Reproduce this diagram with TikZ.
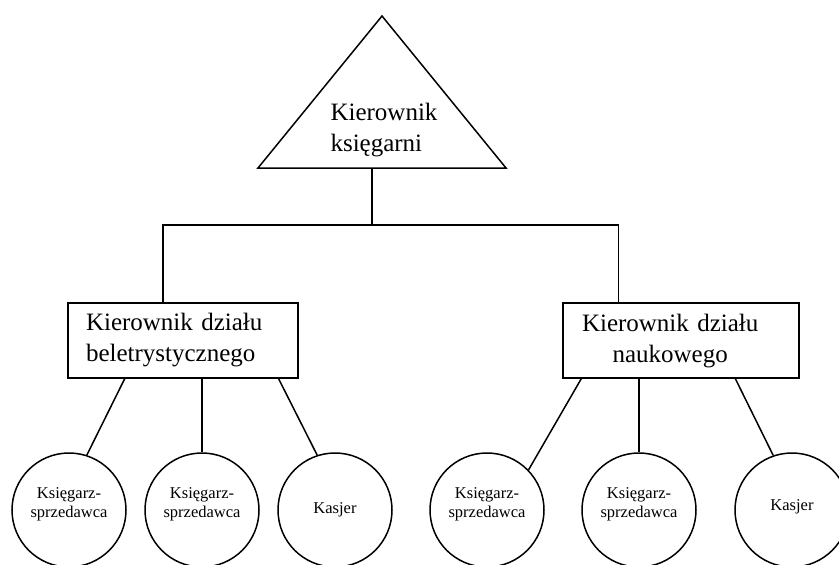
\documentclass[tikz,border=0pt]{standalone}
\usepackage{fontspec}
\setmainfont{Liberation Serif}
\usepackage{tikz}
\usetikzlibrary{calc, positioning}

% tekst w kole, lekko podniesiony
\newcommand{\staffname}[1]{\raisebox{6pt}[\height][\depth]{%
    \begin{tabular}{@{}c@{}}#1\end{tabular}}}

\begin{document}
\begin{tikzpicture}[
    x=1pt, y=-1pt,
    line width=1.5pt,
    bigfont/.style={font=\fontsize{25}{31}\selectfont},
    chief/.style={draw, bigfont, minimum height=75pt, inner ysep=0pt,
                  align=left},
    staff/.style={draw, circle, minimum size=114pt, inner sep=0pt,
                  align=center, font=\fontsize{16.5}{19}\selectfont}
]
\useasboundingbox (0,0) rectangle (839,565);

% --- Sommet : kierownik ksiegarni ---
\coordinate (apex) at (382,16);
\coordinate (bl) at (258,168);
\coordinate (br) at (506,168);
\draw (apex) -- (br) -- (bl) -- cycle;
\node[bigfont, align=left] (root) at (384,130) {Kierownik\\księgarni};

% ============================================================
%  KIEROWNICY DZIALOW
% ============================================================
\node[chief, text width=194pt, inner xsep=18pt] (lbox) at (183,340.5)
    {Kierownik działu\\beletrystycznego};
\node[chief, text width=198pt, inner xsep=19pt] (rbox) at (681,340.5)
    {\begin{tabular}{@{}c@{}}Kierownik działu\\naukowego\end{tabular}};

% --- Polaczenie z sommetem ---
\coordinate (stem) at (372,168);
\coordinate (bar) at (372,225);
\coordinate (lstub) at ($(lbox.north west)!0.413!(lbox.north east)$);
\coordinate (rstub) at ($(rbox.north west)!0.237!(rbox.north east)$);
\draw (stem) -- (bar);
\draw (lstub) |- (bar) -| (rstub);

% ============================================================
%  PRACOWNICY
% ============================================================
\node[staff] (ks1) at (69,510)  {\staffname{Księgarz-\\sprzedawca}};
\node[staff] (ks2) at (202,510) {\staffname{Księgarz-\\sprzedawca}};
\node[staff] (kas1) at (335,510) {Kasjer};
\node[staff] (ks3) at (487,510) {\staffname{Księgarz-\\sprzedawca}};
\node[staff] (ks4) at (639,510) {\staffname{Księgarz-\\sprzedawca}};
\node[staff] (kas2) at (792,510) {\raisebox{3pt}[\height][\depth]{Kasjer}};

% --- Linie od kierownikow dzialow ---
\draw ($(lbox.south west)!0.248!(lbox.south east)$) -- (ks1.72);
\draw (ks2.north |- lbox.south) -- (ks2.north);
\draw ($(lbox.south west)!0.913!(lbox.south east)$) -- (kas1.108);
\draw ($(rbox.south west)!0.08!(rbox.south east)$)  -- (ks3.44);
\draw (ks4.north |- rbox.south) -- (ks4.north);
\draw ($(rbox.south west)!0.729!(rbox.south east)$) -- (kas2.109);

\end{tikzpicture}
\end{document}
